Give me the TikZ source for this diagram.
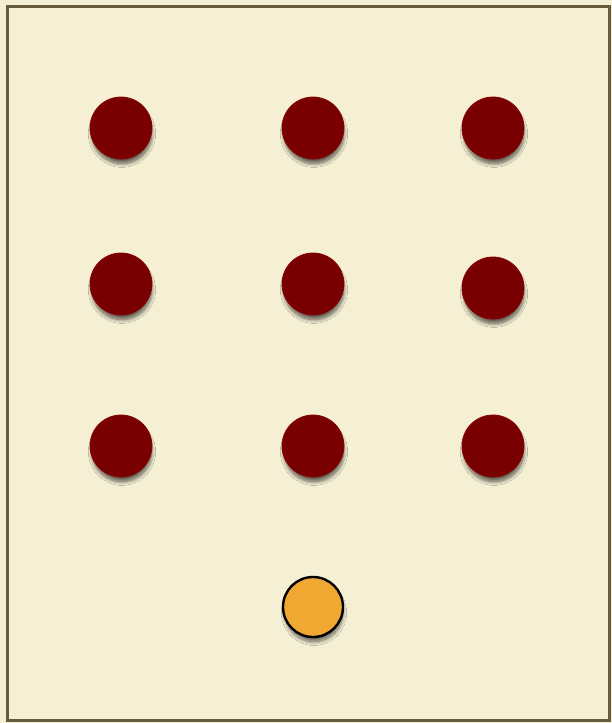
\documentclass[tikz,border=0pt]{standalone}
\usetikzlibrary{shadows.blur}
\definecolor{parch}{HTML}{F5EFD4}
\definecolor{frame}{HTML}{675C3C}
\definecolor{dotred}{HTML}{780000}
\definecolor{dotedge}{HTML}{880404}
\definecolor{dotorange}{HTML}{F0A832}
\tikzset{
  reddot/.style={circle, minimum size=62pt, inner sep=0pt, fill=dotred, draw=dotedge, line width=0.8pt,
    blur shadow={shadow xshift=1pt, shadow yshift=-6pt, shadow scale=0.96, shadow blur radius=4pt, shadow opacity=65, shadow blur steps=12}},
  orangedot/.style={circle, minimum size=60pt, inner sep=0pt, fill=dotorange, draw=black, line width=2.4pt,
    blur shadow={shadow xshift=1pt, shadow yshift=-6pt, shadow scale=0.96, shadow blur radius=4pt, shadow opacity=60, shadow blur steps=12}},
}
\begin{document}
\begin{tikzpicture}[x=1pt,y=-1pt]
\useasboundingbox (0,0) rectangle (612,723);
\fill[parch] (0,0) rectangle (612,723);
\draw[frame, line width=3pt] (7,6) rectangle (609.5,720);
\node[reddot] (a1) at (121,128) {};
\node[reddot] (a2) at (313,128) {};
\node[reddot] (a3) at (493,128) {};
\node[reddot] (b1) at (121,284) {};
\node[reddot] (b2) at (313,284) {};
\node[reddot] (b3) at (493,288) {};
\node[reddot] (c1) at (121,446) {};
\node[reddot] (c2) at (313,446) {};
\node[reddot] (c3) at (493,446) {};
\node[orangedot] (o) at (313,607) {};
\end{tikzpicture}
\end{document}
